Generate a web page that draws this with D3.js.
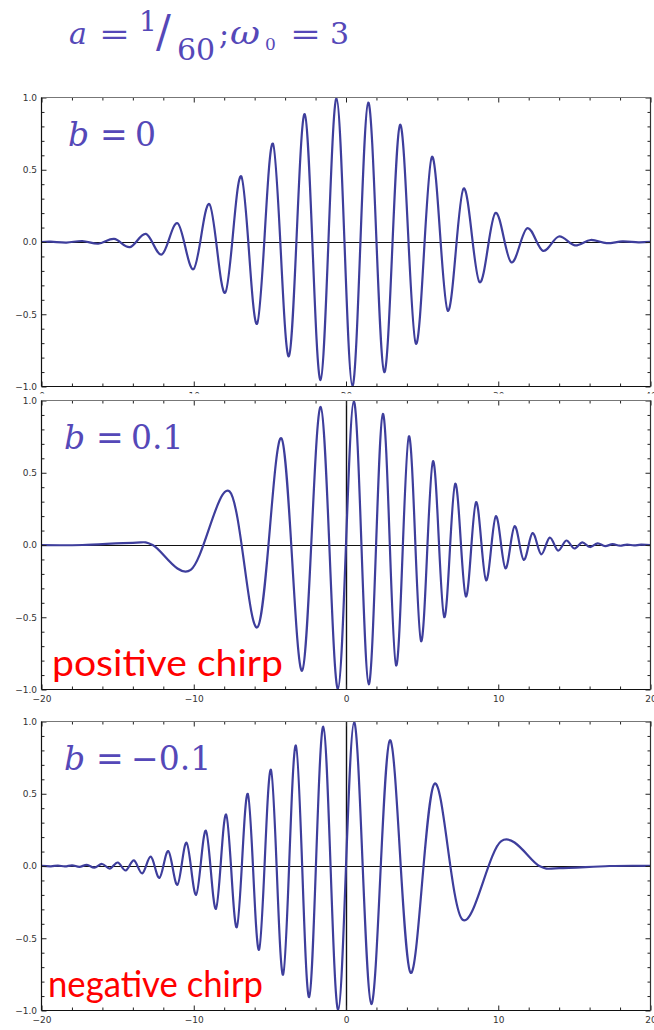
<!DOCTYPE html>
<html>
<head>
<meta charset="utf-8">
<script src="https://cdn.jsdelivr.net/npm/d3@7"></script>
<style>
  body { margin: 0; background: #fff; }
</style>
</head>
<body>
<div id="chart"></div>
<script>
// Peaks and troughs, as [t, value]
const traceB0 = [
  [0, 0], [0.60, 0.002], [1.64, -0.004], [2.68, 0.007], [3.73, -0.012], [4.77, 0.021],
  [5.81, -0.035], [6.86, 0.056], [7.90, -0.087], [8.94, 0.130], [9.99, -0.188],
  [11.03, 0.262], [12.07, -0.351], [13.12, 0.454], [14.16, -0.566], [15.20, 0.681],
  [16.25, -0.791], [17.29, 0.885], [18.33, -0.955], [19.38, 0.994], [20.42, -0.997],
  [21.46, 0.965], [22.51, -0.901], [23.55, 0.811], [24.59, -0.704], [25.64, 0.589],
  [26.68, -0.475], [27.72, 0.370], [28.77, -0.278], [29.81, 0.201], [30.85, -0.140],
  [31.90, 0.095], [32.94, -0.061], [33.98, 0.038], [35.03, -0.023], [36.07, 0.014],
  [37.11, -0.008], [38.16, 0.004], [39.20, -0.002], [40, 0.001]
];
const traceBPos = [
  [-20, -0.001], [-17.3, 0], [-14.0, 0.015], [-12.7, 0], [-10.2, -0.172], [-7.65, 0.371],
  [-5.80, -0.568], [-4.24, 0.739], [-2.88, -0.870], [-1.66, 0.955], [-0.53, -0.995],
  [0.51, 0.996], [1.49, -0.964], [2.42, 0.907], [3.29, -0.834], [4.13, 0.752],
  [4.93, -0.666], [5.71, 0.580], [6.45, -0.499], [7.17, 0.424], [7.87, -0.356],
  [8.54, 0.296], [9.20, -0.244], [9.84, 0.199], [10.47, -0.161], [11.07, 0.130],
  [11.67, -0.103], [12.25, 0.082], [12.82, -0.065], [13.38, 0.051], [13.93, -0.039],
  [14.47, 0.031], [14.99, -0.024], [15.51, 0.018], [16.02, -0.014], [16.53, 0.011],
  [17.02, -0.008], [17.51, 0.006], [17.99, -0.005], [18.46, 0.003], [18.92, -0.003],
  [19.38, 0.002], [20, -0.001]
];
const traceBNeg = [
  [-20, 0.001], [-19.38, -0.002], [-18.92, 0.003], [-18.46, -0.003], [-17.99, 0.005],
  [-17.51, -0.006], [-17.02, 0.008], [-16.53, -0.011], [-16.02, 0.014], [-15.51, -0.018],
  [-14.99, 0.024], [-14.47, -0.031], [-13.93, 0.039], [-13.38, -0.051], [-12.82, 0.065],
  [-12.25, -0.082], [-11.67, 0.103], [-11.07, -0.130], [-10.47, 0.161], [-9.84, -0.199],
  [-9.20, 0.244], [-8.54, -0.296], [-7.87, 0.356], [-7.17, -0.424], [-6.45, 0.499],
  [-5.71, -0.580], [-4.93, 0.666], [-4.13, -0.752], [-3.29, 0.834], [-2.42, -0.907],
  [-1.49, 0.964], [-0.51, -0.996], [0.53, 0.995], [1.66, -0.955], [2.88, 0.870],
  [4.24, -0.739], [5.80, 0.568], [7.65, -0.371], [10.2, 0.172], [12.7, 0],
  [14.0, -0.015], [17.3, 0], [20, 0.001]
];

const traces = [traceB0, traceBPos, traceBNeg];
const xDomains = [[0, 40], [-20, 20], [-20, 20]];
const bValues = ["0", "0.1", "\u22120.1"];
const chirpNames = ["", "positive chirp", "negative chirp"];
const yTicks = [-1, -0.5, 0, 0.5, 1];

const W = 654, H = 1030;
const textColor = "#5548b8";
const lineColor = "#3e3e9c";
const mathFont = "DejaVu Serif";

// where each panel sits on the page
const panels = [
  { top: 97.5, bottom: 386.5, labelX: 69, cover: false },
  { top: 400.5, bottom: 689.5, labelX: 65, cover: true },
  { top: 721.5, bottom: 1010.5, labelX: 65, cover: true }
];
const left = 41.5, right = 650.5;

const svg = d3.select("#chart")
  .append("svg")
  .attr("width", W)
  .attr("height", H);

svg.append("rect").attr("width", W).attr("height", H).attr("fill", "#fff");

// Title: a = 1/60 ; omega_0 = 3
const title = svg.append("g")
  .attr("fill", textColor)
  .attr("font-family", mathFont);
title.append("text").attr("x", 69).attr("y", 43.5).attr("font-size", 30)
  .attr("font-style", "italic").text("a");
title.append("text").attr("x", 99).attr("y", 43.5).attr("font-size", 30)
  .attr("textLength", 31).attr("lengthAdjust", "spacingAndGlyphs").text("=");
title.append("text").attr("x", 139).attr("y", 31).attr("font-size", 28).text("1");
title.append("text").attr("x", 156).attr("y", 47).attr("font-size", 44)
  .attr("font-weight", 300).text("/");
title.append("text").attr("x", 177).attr("y", 60).attr("font-size", 30).text("60");
title.append("text").attr("x", 219).attr("y", 43.5).attr("font-size", 30).text(";");
title.append("text").attr("x", 230).attr("y", 43.5).attr("font-size", 31)
  .attr("font-style", "italic")
  .attr("textLength", 30).attr("lengthAdjust", "spacingAndGlyphs").text("\u03c9");
title.append("text").attr("x", 265).attr("y", 50).attr("font-size", 17).text("0");
title.append("text").attr("x", 290).attr("y", 43.5).attr("font-size", 30)
  .attr("textLength", 31).attr("lengthAdjust", "spacingAndGlyphs").text("=");
title.append("text").attr("x", 330).attr("y", 43.5).attr("font-size", 30).text("3");

panels.forEach((p, i) => {
  const g = svg.append("g");

  // later panels sit on top of the one above and hide its tick labels
  if (p.cover) {
    g.append("rect")
      .attr("x", 0).attr("y", p.top - 7)
      .attr("width", W).attr("height", p.bottom - p.top + 24)
      .attr("fill", "#fff");
  }

  const x = d3.scaleLinear().domain(xDomains[i]).range([left, right]);
  const y = d3.scaleLinear().domain([-1, 1]).range([p.bottom, p.top]);

  const majorX = d3.range(xDomains[i][0], xDomains[i][1] + 1, 10);
  const minorX = d3.range(xDomains[i][0], xDomains[i][1] + 1, 2).filter(d => !majorX.includes(d));
  const minorY = d3.range(-10, 11).map(d => d / 10).filter(d => !yTicks.includes(d));

  const clipId = "clip" + i;
  g.append("clipPath").attr("id", clipId)
    .append("rect")
    .attr("x", left).attr("y", p.top)
    .attr("width", right - left).attr("height", p.bottom - p.top);

  // zero axes
  g.append("line")
    .attr("x1", left).attr("x2", right)
    .attr("y1", Math.round(y(0)) + 0.5).attr("y2", Math.round(y(0)) + 0.5)
    .attr("stroke", "#111").attr("stroke-width", 1);
  if (xDomains[i][0] < 0) {
    g.append("line")
      .attr("x1", Math.round(x(0)) + 0.5).attr("x2", Math.round(x(0)) + 0.5)
      .attr("y1", p.top).attr("y2", p.bottom)
      .attr("stroke", "#111").attr("stroke-width", 1.4);
  }

  // the trace, smoothed through the read peaks
  const line = d3.line()
    .x(d => x(d[0]))
    .y(d => y(d[1]))
    .curve(d3.curveCardinal.tension(0));
  g.append("path")
    .datum(traces[i])
    .attr("clip-path", `url(#${clipId})`)
    .attr("fill", "none")
    .attr("stroke", lineColor)
    .attr("stroke-width", 2.2)
    .attr("stroke-linejoin", "round")
    .attr("d", line);

  // frame ticks, pointing inward
  const tickStyle = sel => {
    sel.select(".domain").remove();
    sel.selectAll("line").attr("stroke", "#222");
    sel.selectAll("text")
      .attr("font-family", "DejaVu Sans")
      .attr("font-size", 9)
      .attr("fill", "#333");
  };
  const fmtX = d => d3.format("d")(d);

  g.append("g").attr("transform", `translate(0,${p.bottom})`)
    .call(d3.axisBottom(x).tickValues(majorX).tickSize(-5).tickPadding(6).tickFormat(fmtX))
    .call(tickStyle);
  g.append("g").attr("transform", `translate(0,${p.bottom})`)
    .call(d3.axisBottom(x).tickValues(minorX).tickSize(-3).tickFormat(""))
    .call(tickStyle);
  g.append("g").attr("transform", `translate(0,${p.top})`)
    .call(d3.axisTop(x).tickValues(majorX).tickSize(-5).tickFormat(""))
    .call(tickStyle);
  g.append("g").attr("transform", `translate(0,${p.top})`)
    .call(d3.axisTop(x).tickValues(minorX).tickSize(-3).tickFormat(""))
    .call(tickStyle);

  g.append("g").attr("transform", `translate(${left},0)`)
    .call(d3.axisLeft(y).tickValues(yTicks).tickSize(-5).tickPadding(4.5).tickFormat(d3.format(".1f")))
    .call(tickStyle);
  g.append("g").attr("transform", `translate(${left},0)`)
    .call(d3.axisLeft(y).tickValues(minorY).tickSize(-3).tickFormat(""))
    .call(tickStyle);
  g.append("g").attr("transform", `translate(${right},0)`)
    .call(d3.axisRight(y).tickValues(yTicks).tickSize(-5).tickFormat(""))
    .call(tickStyle);
  g.append("g").attr("transform", `translate(${right},0)`)
    .call(d3.axisRight(y).tickValues(minorY).tickSize(-3).tickFormat(""))
    .call(tickStyle);

  // frame: top edge lighter, like the original
  g.append("line").attr("x1", left).attr("x2", right).attr("y1", p.top).attr("y2", p.top)
    .attr("stroke", "#777").attr("stroke-width", 1.2);
  g.append("line").attr("x1", left).attr("x2", right).attr("y1", p.bottom).attr("y2", p.bottom)
    .attr("stroke", "#111").attr("stroke-width", 1.2);
  g.append("line").attr("x1", left).attr("x2", left).attr("y1", p.top).attr("y2", p.bottom)
    .attr("stroke", "#111").attr("stroke-width", 1.2);
  g.append("line").attr("x1", right).attr("x2", right).attr("y1", p.top).attr("y2", p.bottom)
    .attr("stroke", "#333").attr("stroke-width", 1.2);

  // b = ... label
  const lab = g.append("g")
    .attr("fill", textColor)
    .attr("font-family", mathFont)
    .attr("font-size", 33);
  const base = p.top + 48.5;
  lab.append("text").attr("x", p.labelX - 1).attr("y", base)
    .attr("font-style", "italic").text("b");
  lab.append("text").attr("x", p.labelX + 31).attr("y", base).text("=");
  lab.append("text").attr("x", p.labelX + 66).attr("y", base).text(bValues[i]);

  // chirp note in red
  if (chirpNames[i]) {
    g.append("text")
      .attr("x", i === 1 ? 52 : 48)
      .attr("y", p.bottom - 14)
      .attr("font-family", "Lato, 'Open Sans', sans-serif")
      .attr("font-size", 36)
      .attr("fill", "#ff0000")
      .attr("textLength", i === 1 ? 231 : 215)
      .attr("lengthAdjust", "spacingAndGlyphs")
      .text(chirpNames[i]);
  }
});
</script>
</body>
</html>
